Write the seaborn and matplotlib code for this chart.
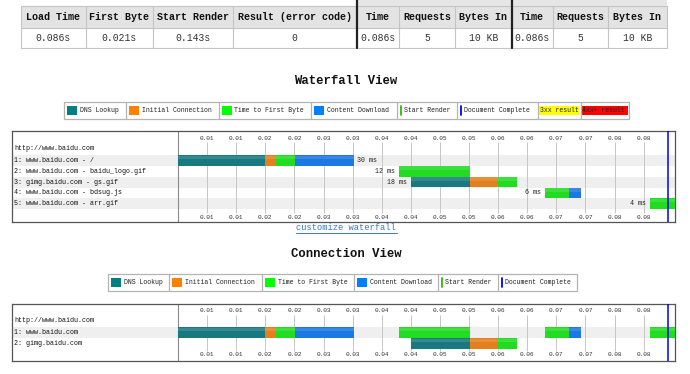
import matplotlib
matplotlib.use("Agg")
import matplotlib.pyplot as plt
from matplotlib.patches import Rectangle
import numpy as np
import seaborn as sns

sns.set_theme(style="white")
plt.rcParams['font.family'] = ['Liberation Mono', 'DejaVu Sans Mono']

# ---------------- data ----------------
summary_headers = ["Load Time", "First Byte", "Start Render", "Result (error code)",
                   "Time", "Requests", "Bytes In", "Time", "Requests", "Bytes In"]
summary_values = ["0.086s", "0.021s", "0.143s", "0",
                  "0.086s", "5", "10 KB", "0.086s", "5", "10 KB"]

page_url = "http://www.baidu.com"
request_labels = ["1: www.baidu.com - /",
                  "2: www.baidu.com - baidu_logo.gif",
                  "3: gimg.baidu.com - gs.gif",
                  "4: www.baidu.com - bdsug.js",
                  "5: www.baidu.com - arr.gif"]
# phase boundaries (seconds); nan = phase absent
dns_start = [0.0000, np.nan, 0.0400, np.nan, np.nan]
dns_end = [0.0149, np.nan, 0.0502, np.nan, np.nan]
connect_end = [0.0168, np.nan, 0.0550, np.nan, np.nan]
ttfb_start = [0.0168, 0.0380, 0.0550, 0.0631, 0.0811]
ttfb_end = [0.0201, 0.0502, 0.0582, 0.0672, 0.0856]
download_end = [0.0302, 0.0502, 0.0582, 0.0692, 0.0856]
duration_labels = ["30 ms", "12 ms", "18 ms", "6 ms", "4 ms"]

connection_labels = ["1: www.baidu.com", "2: gimg.baidu.com"]
request_connection = [0, 0, 1, 0, 0]

doc_complete = 0.0842
tick_times = [0.005, 0.010, 0.015, 0.020, 0.025, 0.030, 0.035, 0.040,
              0.045, 0.050, 0.055, 0.060, 0.065, 0.070, 0.075, 0.080]
tick_labels = ["0.01", "0.01", "0.02", "0.02", "0.03", "0.03", "0.04", "0.04",
               "0.05", "0.05", "0.06", "0.06", "0.07", "0.07", "0.08", "0.08"]

legend_labels = ["DNS Lookup", "Initial Connection", "Time to First Byte",
                 "Content Download", "Start Render", "Document Complete",
                 "3xx result", "4xx+ result"]
legend_kinds = ["swatch", "swatch", "swatch", "swatch", "line", "line", "bg", "bg"]
legend_colors = ["#008080", "#ff7f00", "#00ff00", "#0080ff", "#28bc00", "#0000ff",
                 "#ffff00", "#ff0000"]

# ---------------- styling ----------------
W, H = 690, 374
PX = 5820.0   # pixels per second
C_DNS, C_CON, C_TTFB, C_DL = "#187a80", "#e47f1e", "#22dc22", "#1c78e2"
FS_SMALL = 4.8

fig = plt.figure(figsize=(W / 100, H / 100), dpi=100)
fig.patch.set_facecolor("white")


def frect(x0, y0, x1, y1):
    return [x0 / W, 1 - y1 / H, (x1 - x0) / W, (y1 - y0) / H]


ax0 = fig.add_axes([0, 0, 1, 1])
ax0.set_xlim(0, W)
ax0.set_ylim(H, 0)
ax0.axis("off")

# ---------------- summary table ----------------
bx = [20.5, 86, 152.7, 233, 356.5, 399, 455, 511.5, 553, 608, 666.7]
ax0.add_patch(Rectangle((357, 0), 666.7 - 357, 6, facecolor="#e6e6e6", edgecolor="none"))
ax0.add_patch(Rectangle((bx[0], 6), bx[-1] - bx[0], 22, facecolor="#e3e3e3", edgecolor="none"))
for yy in [6, 28, 47.5]:
    ax0.plot([bx[0], bx[-1]], [yy, yy], color="#c4c4c4", lw=0.8)
for k, xx in enumerate(bx):
    if k in (4, 7):
        ax0.plot([xx, xx], [0, 47.5], color="#222222", lw=1.6)
    else:
        ax0.plot([xx, xx], [6, 47.5], color="#c4c4c4", lw=0.8)
for k in range(len(summary_headers)):
    cx = (bx[k] + bx[k + 1]) / 2
    ax0.text(cx, 17, summary_headers[k], ha="center", va="center",
             fontsize=7.2, fontweight="bold", color="#111111")
    ax0.text(cx, 38, summary_values[k], ha="center", va="center",
             fontsize=7.0, color="#333333")

# ---------------- titles / link ----------------
ax0.text(346, 80.5, "Waterfall View", ha="center", va="center",
         fontsize=8.8, fontweight="bold", color="#111111")
ax0.text(346, 254, "Connection View", ha="center", va="center",
         fontsize=8.8, fontweight="bold", color="#111111")
ax0.text(346, 227.5, "customize waterfall", ha="center", va="center",
         fontsize=6.3, color="#3a74d6")
ax0.plot([296, 397], [232.5, 232.5], color="#3a74d6", lw=0.7)


# ---------------- legends ----------------
def draw_legend(bounds, y0, y1, n):
    yc = (y0 + y1) / 2
    ax0.add_patch(Rectangle((bounds[0], y0), bounds[n] - bounds[0], y1 - y0,
                            facecolor="white", edgecolor="#b4b4b4", lw=0.9))
    for k in range(n):
        x0, x1 = bounds[k], bounds[k + 1]
        if k > 0:
            ax0.plot([x0, x0], [y0, y1], color="#b4b4b4", lw=0.9)
        kind, col, lab = legend_kinds[k], legend_colors[k], legend_labels[k]
        if kind == "swatch":
            ax0.add_patch(Rectangle((x0 + 3, yc - 4.5), 10, 9, facecolor=col, edgecolor="none"))
            tx = x0 + 16
        elif kind == "line":
            ax0.plot([x0 + 4, x0 + 4], [yc - 4.5, yc + 4.5], color=col, lw=1.3)
            tx = x0 + 7
        else:
            ax0.add_patch(Rectangle((x0 + 1.5, yc - 4.3), x1 - x0 - 3, 8.6,
                                    facecolor=col, edgecolor="none"))
            tx = x0 + 2
        ax0.text(tx, yc, lab, ha="left", va="center", fontsize=4.7, color="#222222")


draw_legend([64, 125.5, 218.5, 311, 396.5, 456.5, 537.5, 580.5, 629], 102, 118.5, 8)
draw_legend([108.3, 169.3, 262.3, 354.3, 438.3, 498.3, 577.3], 274, 291, 6)


# ---------------- panels ----------------
def make_panel(px_top, px_bot, y_center0, row_h):
    ax = fig.add_axes(frect(12, px_top, 675, px_bot))
    ax.set_xlim((12 - 178) / PX, (675 - 178) / PX)
    ax.set_ylim((px_bot - y_center0) / row_h, (px_top - y_center0) / row_h)
    ax.set_xticks([])
    ax.set_yticks([])
    for s in ax.spines.values():
        s.set_color("#555555")
        s.set_linewidth(0.9)
        s.set_visible(True)
    ax.set_facecolor("white")
    return ax


def to_i(py, y_center0, row_h):
    return (py - y_center0) / row_h


def draw_common(ax, yc0, rh, top_lab, bot_lab, grid_top, grid_bot, labels, bands):
    for b in bands:
        ax.axhspan(b - 0.5, b + 0.5, color="#efefef", lw=0, zorder=0)
    ax.vlines(tick_times, to_i(grid_top, yc0, rh), to_i(grid_bot, yc0, rh),
              color="#c6c6c6", lw=0.7, zorder=1)
    ax.axvline(0, color="#8a8a8a", lw=0.8, zorder=1)
    for t, lab in zip(tick_times, tick_labels):
        ax.text(t, to_i(top_lab, yc0, rh), lab, ha="center", va="center",
                fontsize=4.4, color="#333333")
        ax.text(t, to_i(bot_lab, yc0, rh), lab, ha="center", va="center",
                fontsize=4.4, color="#333333")
    lx = (14 - 178) / PX
    ax.text(lx, -0.1, page_url, ha="left", va="center", fontsize=FS_SMALL, color="#111111")
    for k, lab in enumerate(labels):
        ax.text(lx, k + 1, lab, ha="left", va="center", fontsize=FS_SMALL, color="#111111")
    ax.axvline(doc_complete, color="#0000ee", lw=1.1, zorder=4)


def draw_request(ax, r, row, h):
    segs = [(dns_start[r], dns_end[r], C_DNS), (dns_end[r], connect_end[r], C_CON),
            (ttfb_start[r], ttfb_end[r], C_TTFB), (ttfb_end[r], download_end[r], C_DL)]
    for a, b, c in segs:
        if np.isnan(a) or np.isnan(b) or b <= a:
            continue
        ax.barh(row, b - a, left=a, height=h, color=c, lw=0, zorder=3)
        ax.barh(row - h * 0.3, b - a, left=a, height=h * 0.35, color="white",
                alpha=0.12, lw=0, zorder=3)


# waterfall
wf_c0, wf_h = 149.7, 10.8
axw = make_panel(131, 222, wf_c0, wf_h)
draw_common(axw, wf_c0, wf_h, 138, 217.5, 142, 213, request_labels, [1, 3, 5])
for r in range(len(request_labels)):
    draw_request(axw, r, r + 1, 0.97)
    if r == 0:
        axw.text(download_end[r] + 3 / PX, r + 1, duration_labels[r], ha="left",
                 va="center", fontsize=FS_SMALL, color="#222222")
    else:
        start = np.nanmin([dns_start[r], ttfb_start[r]])
        axw.text(start - 4 / PX, r + 1, duration_labels[r], ha="right",
                 va="center", fontsize=FS_SMALL, color="#222222")

# connection view
cv_c0, cv_h = 321.5, 11.0
axc = make_panel(304, 361, cv_c0, cv_h)
draw_common(axc, cv_c0, cv_h, 310, 355, 315, 350.5, connection_labels, [1])
for r in range(len(request_labels)):
    draw_request(axc, r, request_connection[r] + 1, 0.95)

fig.savefig("out.png", dpi=100, facecolor="white")
